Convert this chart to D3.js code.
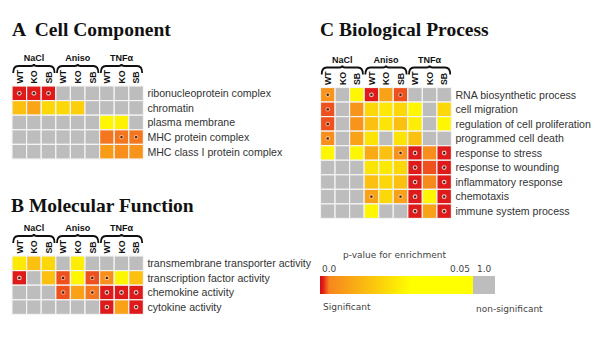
<!DOCTYPE html>
<html><head><meta charset="utf-8">
<script src="https://cdn.jsdelivr.net/npm/d3@7"></script>
<style>
html,body{margin:0;padding:0;background:#fff;}
svg{display:block;}
</style>
</head><body>
<svg id="chart" width="600" height="338"></svg>
<script>
// ---------- DATA ----------
const conditions = ["NaCl", "Aniso", "TNFα"];
const genotypes = ["WT", "KO", "SB"];

// Panel A: Cell Component (p-values, null = non-significant)
const ccTerms = ["ribonucleoprotein complex", "chromatin", "plasma membrane", "MHC protein complex", "MHC class I protein complex"];
const ccValues = [
  [0.0008, 0.0008, 0.0008, null, null, null, null, null, null],
  [0.016, 0.010, 0.021, 0.021, 0.019, null, null, null, null],
  [null, null, null, null, null, null, 0.028, 0.027, null],
  [null, null, null, null, null, null, 0.0027, 0.0027, 0.0027],
  [null, null, null, null, null, null, 0.008, 0.005, 0.006]
];
const ccMarks = [[0, 1, 2], [], [], [7, 8], []];

// Panel B: Molecular Function
const mfTerms = ["transmembrane transporter activity", "transcription factor activity", "chemokine activity", "cytokine activity"];
const mfValues = [
  [0.025, 0.016, 0.021, null, 0.026, null, null, null, null],
  [0.0008, null, 0.016, 0.002, 0.028, 0.002, 0.005, 0.028, 0.016],
  [null, null, null, 0.002, 0.009, 0.0027, 0.0008, 0.0008, 0.0008],
  [null, null, null, null, null, null, 0.0008, 0.009, 0.0008]
];
const mfMarks = [[], [0, 3, 5, 6], [3, 5, 6, 7, 8], [6, 8]];

// Panel C: Biological Process
const bpTerms = ["RNA biosynthetic process", "cell migration", "regulation of cell proliferation", "programmed cell death", "response to stress", "response to wounding", "inflammatory response", "chemotaxis", "immune system process"];
const bpValues = [
  [0.006, null, 0.028, 0.0008, 0.009, 0.002, null, null, null],
  [0.002, null, 0.006, 0.021, 0.025, 0.021, 0.028, null, 0.021],
  [0.002, null, 0.006, 0.016, 0.024, 0.016, 0.026, null, 0.028],
  [0.005, null, 0.009, 0.024, null, 0.024, 0.016, null, null],
  [0.028, null, 0.028, 0.011, 0.016, 0.006, 0.0008, 0.005, 0.0008],
  [null, null, null, 0.024, 0.025, 0.021, 0.0008, 0.002, 0.0008],
  [null, null, null, 0.016, 0.021, 0.016, 0.0008, 0.004, 0.0008],
  [null, null, null, 0.009, 0.021, 0.009, 0.0008, 0.028, 0.0008],
  [null, null, null, 0.028, null, null, 0.0008, 0.009, 0.0008]
];
const bpMarks = [[0, 3, 5], [0], [0], [0], [5, 6, 8], [6, 8], [6, 8], [3, 5, 6, 8], [6, 8]];

// Legend
const legendTitle = "p-value for enrichment";
const legendTicks = ["0.0", "0.05", "1.0"];
const legendLabels = ["Significant", "non-significant"];

// ---------- DRAW ----------
const svg = d3.select("#chart");
const grey = "#bdbdbd";
const color = d3.scaleLinear()
  .domain([0, 0.001, 0.003, 0.03, 0.05])
  .range(["#cc1010", "#e41c1c", "#f7861e", "#ffff00", "#ffff00"])
  .clamp(true);

const columns = [];
conditions.forEach(c => genotypes.forEach(g => columns.push({cond: c, geno: g})));

function panel(opts) {
  const {x0, y0, cw, title, tx, ty, terms, values, marks} = opts;
  const g = svg.append("g");
  const x = d3.scaleBand().domain(d3.range(columns.length)).range([x0, x0 + cw * columns.length]);
  const y = d3.scaleBand().domain(d3.range(terms.length)).range([y0, y0 + cw * terms.length]);

  g.append("text").attr("x", tx).attr("y", ty)
    .attr("font-family", "'Liberation Serif','Times New Roman',serif")
    .attr("font-weight", "bold").attr("font-size", 19.5).attr("fill", "#111")
    .style("white-space", "pre")
    .text(title);

  // cells
  const cells = [];
  values.forEach((row, i) => row.forEach((v, j) => cells.push({i, j, v})));
  g.selectAll("rect.cell").data(cells).join("rect")
    .attr("class", "cell")
    .attr("x", d => x(d.j)).attr("y", d => y(d.i))
    .attr("width", x.bandwidth()).attr("height", y.bandwidth())
    .attr("fill", d => d.v == null ? grey : color(d.v))
    .attr("stroke", "#f4f4f4").attr("stroke-width", 1.2);

  // markers
  const mk = [];
  marks.forEach((row, i) => row.forEach(j => mk.push({i, j, v: values[i][j]})));
  const mg = g.selectAll("g.mk").data(mk).join("g").attr("class", "mk")
    .attr("transform", d => `translate(${x(d.j) + x.bandwidth() / 2},${y(d.i) + y.bandwidth() / 2})`);
  mg.append("circle").attr("r", 2.4)
    .attr("fill", d => d.v < 0.0015 ? "#f3c0b8" : "rgba(255,230,200,0.5)")
    .attr("stroke", "none");
  mg.append("circle").attr("r", 1.2).attr("fill", "#3a2020");

  // row labels
  g.selectAll("text.row").data(terms).join("text")
    .attr("class", "row")
    .attr("x", x0 + cw * columns.length + 4)
    .attr("y", (d, i) => y(i) + y.bandwidth() / 2)
    .attr("dy", "0.36em")
    .attr("font-family", "'Liberation Sans',Arial,sans-serif")
    .attr("font-size", 10.6).attr("fill", "#333")
    .text(d => d);

  // column labels (rotated)
  g.selectAll("text.col").data(columns).join("text")
    .attr("class", "col")
    .attr("transform", (d, j) => `translate(${x(j) + x.bandwidth() / 2 + 3.2},${y0 - 2.5}) rotate(-90)`)
    .attr("font-family", "'Liberation Sans',Arial,sans-serif")
    .attr("font-weight", "bold").attr("font-size", 8.8).attr("fill", "#111")
    .text(d => d.geno);

  // braces + group labels
  const yb = y0 - 22;
  conditions.forEach((c, k) => {
    const x1 = x(k * 3) + 1.2, x2 = x(k * 3 + 2) + x.bandwidth() - 1.2;
    const xm = (x1 + x2) / 2;
    const p = `M${x1},${yb + 9} Q${x1},${yb + 2} ${x1 + 5},${yb + 2} L${xm - 3},${yb + 2} Q${xm},${yb + 2} ${xm},${yb} Q${xm},${yb + 2} ${xm + 3},${yb + 2} L${x2 - 5},${yb + 2} Q${x2},${yb + 2} ${x2},${yb + 9}`;
    g.append("path").attr("d", p).attr("fill", "none").attr("stroke", "#111").attr("stroke-width", 1.8);
    g.append("text").attr("x", xm).attr("y", y0 - 25)
      .attr("text-anchor", "middle")
      .attr("font-family", "'Liberation Sans',Arial,sans-serif")
      .attr("font-weight", "bold").attr("font-size", 9).attr("fill", "#111")
      .text(c);
  });
}

panel({x0: 12, y0: 86, cw: 14.6, title: "A  Cell Component", tx: 12, ty: 36, terms: ccTerms, values: ccValues, marks: ccMarks});
panel({x0: 12, y0: 256, cw: 14.6, title: "B Molecular Function", tx: 11, ty: 212, terms: mfTerms, values: mfValues, marks: mfMarks});
panel({x0: 320.5, y0: 87.5, cw: 14.55, title: "C Biological Process", tx: 320, ty: 36, terms: bpTerms, values: bpValues, marks: bpMarks});

// ---------- LEGEND ----------
const lx = d3.scaleLinear().domain([0, 0.05]).range([320, 473]);
const defs = svg.append("defs");
const grad = defs.append("linearGradient").attr("id", "pgrad").attr("x1", "0%").attr("x2", "100%");
d3.range(0, 1.0001, 0.02).forEach(t => {
  grad.append("stop").attr("offset", (t * 100) + "%").attr("stop-color", color(t * 0.05));
});
const lg = svg.append("g");
const ly = 276, lh = 18;
lg.append("rect").attr("x", lx(0)).attr("y", ly).attr("width", lx(0.05) - lx(0)).attr("height", lh).attr("fill", "url(#pgrad)");
lg.append("rect").attr("x", lx(0.05)).attr("y", ly).attr("width", 22).attr("height", lh).attr("fill", grey);
const lfont = "'DejaVu Sans',Verdana,sans-serif";
lg.append("text").attr("x", 343).attr("y", 258).attr("font-family", lfont).attr("font-size", 9).attr("fill", "#444").text(legendTitle);
lg.append("text").attr("x", lx(0) + 2).attr("y", 272).attr("font-family", lfont).attr("font-size", 9).attr("fill", "#444").text(legendTicks[0]);
lg.append("text").attr("x", lx(0.05) - 3).attr("y", 272).attr("text-anchor", "end").attr("font-family", lfont).attr("font-size", 9).attr("fill", "#444").text(legendTicks[1]);
lg.append("text").attr("x", lx(0.05) + 4).attr("y", 272).attr("font-family", lfont).attr("font-size", 9).attr("fill", "#444").text(legendTicks[2]);
lg.append("text").attr("x", 323).attr("y", 310).attr("font-family", lfont).attr("font-size", 9).attr("fill", "#444").text(legendLabels[0]);
lg.append("text").attr("x", 476).attr("y", 312).attr("font-family", lfont).attr("font-size", 9).attr("fill", "#444").text(legendLabels[1]);
</script>
</body></html>
